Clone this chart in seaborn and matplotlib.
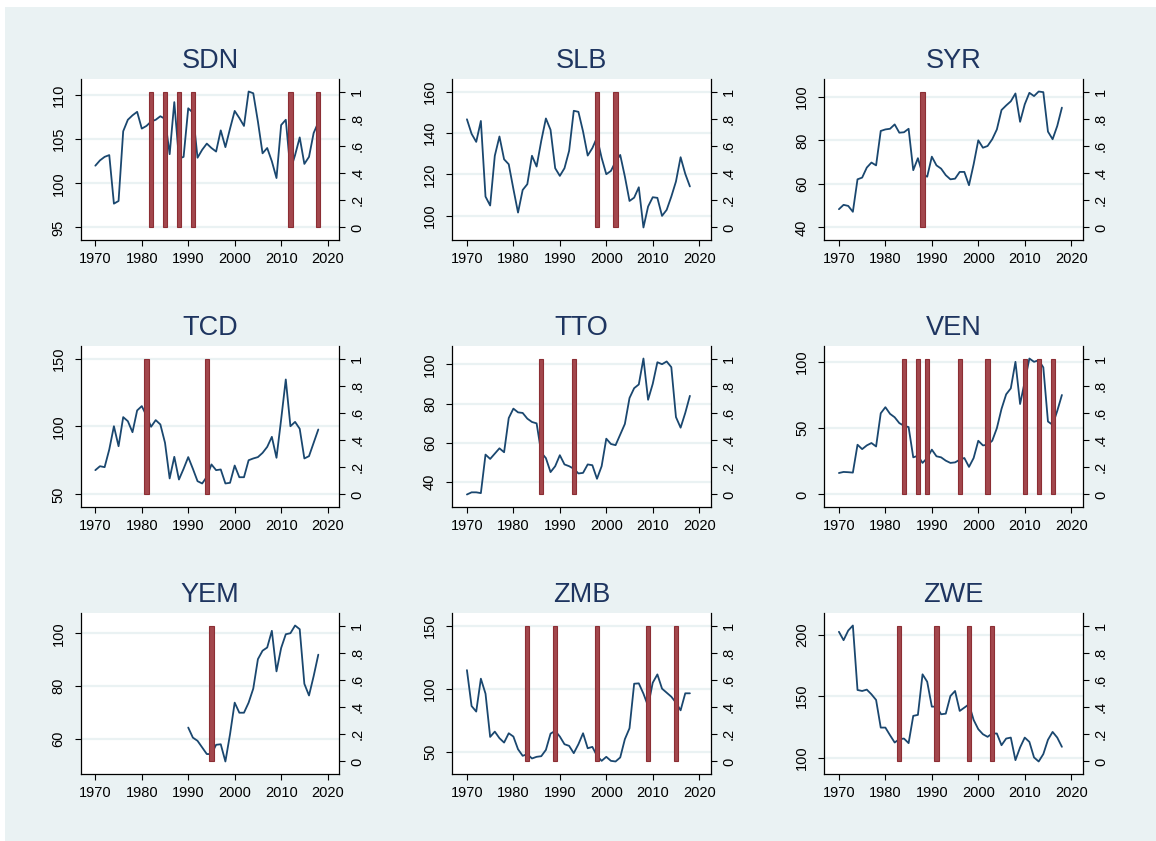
import matplotlib
matplotlib.use("Agg")
import matplotlib.pyplot as plt
import numpy as np
import pandas as pd
import seaborn as sns
from matplotlib.patches import Rectangle

sns.set_theme(style="ticks")
plt.rcParams["font.family"] = ["Liberation Sans", "DejaVu Sans"]

# ---- data -------------------------------------------------------------
years = list(range(1970, 2019))
yem_years = list(range(1990, 2019))

sdn = [102.0, 102.6, 103.0, 103.2, 97.7, 98.0, 105.9, 107.2, 107.7, 108.1,
       106.2, 106.5, 107.0, 107.2, 107.6, 107.3, 103.3, 109.2, 102.8, 103.0,
       108.5, 108.0, 102.9, 103.8, 104.5, 104.0, 103.6, 106.0, 104.1, 106.2,
       108.2, 107.4, 106.5, 110.4, 110.2, 107.0, 103.4, 104.0, 102.5, 100.6,
       106.6, 107.2, 101.5, 103.2, 105.2, 102.2, 103.0, 105.7, 106.9]
slb = [146.6, 139.6, 135.7, 145.8, 109.3, 105.0, 129.0, 138.3, 127.3, 124.9,
       113.0, 101.6, 112.5, 115.3, 129.0, 123.8, 136.2, 147.0, 141.5, 123.0,
       119.3, 123.0, 131.4, 150.7, 150.2, 140.7, 129.1, 132.7, 137.8, 128.0,
       120.1, 121.7, 126.2, 129.4, 119.0, 107.2, 108.8, 113.8, 94.4, 104.5,
       109.0, 108.7, 100.0, 102.9, 109.3, 116.6, 128.3, 120.3, 114.2]
syr = [48.4, 50.4, 49.9, 47.2, 62.1, 62.9, 67.5, 69.8, 68.5, 84.3,
       85.0, 85.3, 87.3, 83.5, 83.7, 85.3, 66.3, 71.8, 64.5, 63.3,
       72.5, 68.5, 67.0, 64.0, 62.1, 62.4, 65.5, 65.5, 59.4, 69.0,
       80.0, 76.6, 77.4, 80.5, 85.0, 93.9, 96.0, 97.9, 101.5, 88.5,
       96.5, 101.8, 100.3, 102.4, 102.1, 84.0, 80.5, 86.6, 95.0]
tcd = [67.9, 70.8, 70.1, 83.1, 100.2, 85.5, 106.9, 103.9, 95.8, 111.8,
       115.0, 108.0, 99.8, 104.7, 101.5, 88.0, 61.8, 77.7, 61.0, 68.9,
       77.5, 68.9, 59.8, 58.1, 63.0, 72.1, 67.9, 68.4, 58.1, 58.6,
       71.3, 62.7, 62.7, 75.2, 76.5, 77.5, 80.6, 85.0, 92.4, 77.0,
       105.1, 134.6, 100.2, 103.4, 98.3, 76.5, 78.2, 88.0, 97.8]
tto = [33.7, 34.8, 34.8, 34.4, 54.0, 51.8, 54.5, 57.2, 55.2, 72.6,
       77.4, 75.5, 75.2, 72.3, 70.6, 69.9, 55.0, 52.2, 45.1, 48.1,
       53.7, 49.0, 48.1, 46.8, 44.4, 44.7, 49.0, 48.6, 41.7, 48.1,
       62.1, 59.4, 58.8, 64.2, 69.6, 82.8, 87.8, 89.7, 102.9, 81.9,
       90.0, 101.0, 100.0, 101.4, 98.5, 73.1, 67.7, 75.2, 83.9]
ven = [16.2, 17.0, 16.8, 16.5, 37.5, 34.2, 37.0, 38.8, 36.2, 61.2,
       65.8, 60.8, 58.2, 53.8, 51.8, 50.8, 28.0, 29.2, 23.8, 27.5,
       33.8, 28.8, 28.0, 25.5, 23.8, 24.2, 26.2, 27.5, 20.8, 27.5,
       40.5, 37.0, 37.5, 40.5, 50.0, 64.5, 75.5, 80.0, 100.0, 68.2,
       85.0, 102.5, 100.0, 101.2, 95.8, 55.0, 52.5, 63.0, 75.0]
yem = [64.4, 60.6, 59.4, 56.9, 54.4, 54.4, 57.9, 58.1, 51.6, 61.9,
       73.8, 70.0, 70.0, 73.8, 79.1, 90.2, 93.4, 94.6, 100.9, 85.6,
       94.4, 99.6, 100.0, 102.9, 101.5, 80.9, 76.5, 83.8, 91.9]
zmb = [114.6, 86.1, 81.7, 107.8, 95.9, 61.6, 65.8, 60.6, 57.1, 64.5,
       61.9, 51.8, 46.6, 47.9, 44.5, 45.8, 46.3, 51.3, 64.2, 66.4,
       61.9, 55.8, 54.5, 48.7, 55.8, 64.5, 52.6, 53.7, 46.6, 42.6,
       45.8, 42.6, 42.1, 45.3, 59.8, 68.5, 103.8, 104.1, 95.9, 86.1,
       104.6, 111.2, 99.9, 96.7, 93.5, 88.8, 82.7, 96.2, 96.2]
zwe = [202.2, 195.4, 203.2, 207.3, 155.0, 154.2, 155.3, 151.5, 146.9, 124.5,
       124.5, 118.3, 112.4, 115.1, 115.6, 111.9, 134.0, 134.8, 167.7, 161.7,
       141.5, 141.5, 135.3, 135.8, 150.1, 154.2, 138.0, 140.7, 143.4, 130.7,
       123.2, 119.1, 117.0, 119.7, 119.7, 110.2, 115.6, 116.4, 98.1, 108.4,
       116.4, 112.9, 100.3, 97.0, 103.0, 114.6, 121.0, 116.4, 108.9]

# years flagged by the dummy (plotted as bars of height 1 on the right axis)
sdn_events = [1982, 1985, 1988, 1991, 2012, 2018]
slb_events = [1998, 2002]
syr_events = [1988]
tcd_events = [1981, 1994]
tto_events = [1986, 1993]
ven_events = [1984, 1987, 1989, 1996, 2002, 2010, 2013, 2016]
yem_events = [1995]
zmb_events = [1983, 1989, 1998, 2009, 2015]
zwe_events = [1983, 1991, 1998, 2003]

sdn_ticks = [95, 100, 105, 110]
slb_ticks = [100, 120, 140, 160]
syr_ticks = [40, 60, 80, 100]
tcd_ticks = [50, 100, 150]
tto_ticks = [40, 60, 80, 100]
ven_ticks = [0, 50, 100]
yem_ticks = [60, 80, 100]
zmb_ticks = [50, 100, 150]
zwe_ticks = [100, 150, 200]

x_ticks = [1970, 1980, 1990, 2000, 2010, 2020]
dummy_ticks = [0, 0.2, 0.4, 0.6, 0.8, 1.0]
dummy_labels = ["0", ".2", ".4", ".6", ".8", "1"]

panels = [
    ("SDN", years, sdn, sdn_events, sdn_ticks),
    ("SLB", years, slb, slb_events, slb_ticks),
    ("SYR", years, syr, syr_events, syr_ticks),
    ("TCD", years, tcd, tcd_events, tcd_ticks),
    ("TTO", years, tto, tto_events, tto_ticks),
    ("VEN", years, ven, ven_events, ven_ticks),
    ("YEM", yem_years, yem, yem_events, yem_ticks),
    ("ZMB", years, zmb, zmb_events, zmb_ticks),
    ("ZWE", years, zwe, zwe_events, zwe_ticks),
]

# ---- style ------------------------------------------------------------
NAVY = "#1a476f"
TITLE = "#1e3560"
BAR_FILL = "#a3474d"
BAR_EDGE = "#8c2e34"
REGION = "#eaf2f3"
GRID = "#eaf2f3"

W, H = 1156, 841
fig = plt.figure(figsize=(W / 100, H / 100), dpi=100)
fig.patch.set_facecolor("white")
fig.patches.append(Rectangle((5 / W, 0), 1 - 5 / W, 1 - 7 / H,
                             transform=fig.transFigure, facecolor=REGION,
                             edgecolor="none", zorder=-10))

col_left = [80.7, 452.3, 824.3]
row_top = [79, 346, 613]
ax_w, ax_h = 258.5, 161
pad = 0.092

for i, (name, yrs, vals, ev, ticks) in enumerate(panels):
    r, c = divmod(i, 3)
    ax = fig.add_axes([col_left[c] / W, 1 - (row_top[r] + ax_h) / H,
                       ax_w / W, ax_h / H])
    ax.set_facecolor("white")

    df = pd.DataFrame({"year": yrs, "value": vals})
    sns.lineplot(data=df, x="year", y="value", ax=ax, color=NAVY,
                 linewidth=1.3, zorder=3)

    lo = min(min(vals), ticks[0])
    hi = max(max(vals), ticks[-1])
    span = hi - lo
    ax.set_ylim(lo - pad * span, hi + pad * span)
    ax.set_yticks(ticks)
    ax.set_yticklabels([str(t) for t in ticks])
    ax.yaxis.grid(True, color=GRID, linewidth=1.6)
    ax.xaxis.grid(False)
    ax.set_axisbelow(True)
    ax.set_xticks(x_ticks)
    ax.set_xticklabels([str(t) for t in x_ticks])
    ax.set_xlim(1966.85, 2022.5)
    ax.set_xlabel("")
    ax.set_ylabel("")
    ax.tick_params(axis="y", labelrotation=90, length=4, width=0.8,
                   color="black", labelcolor="black", labelsize=10.5, pad=7)
    ax.tick_params(axis="x", length=4.5, width=0.8, color="black",
                   labelcolor="black", labelsize=10.5, pad=4)
    for lab in ax.get_yticklabels():
        lab.set_va("center")
    ax.spines["top"].set_visible(False)
    ax.spines["right"].set_visible(False)
    for s in ("left", "bottom"):
        ax.spines[s].set_color("black")
        ax.spines[s].set_linewidth(0.9)

    ax.set_title(name, fontsize=19.5, color=TITLE, pad=8)

    ax2 = ax.twinx()
    ax2.bar(ev, [1.0] * len(ev), width=0.9, color=BAR_FILL,
            edgecolor=BAR_EDGE, linewidth=0.8, zorder=4)
    ax2.set_ylim(-pad, 1 + pad)
    ax2.set_yticks(dummy_ticks)
    ax2.set_yticklabels(dummy_labels)
    ax2.tick_params(axis="y", labelrotation=90, length=4, width=0.8,
                    color="black", labelcolor="black", labelsize=10.5, pad=4)
    for lab in ax2.get_yticklabels():
        lab.set_va("center")
    ax2.set_xlim(1966.85, 2022.5)
    ax2.spines["top"].set_visible(False)
    ax2.spines["left"].set_visible(False)
    ax2.spines["bottom"].set_visible(False)
    ax2.spines["right"].set_color("black")
    ax2.spines["right"].set_linewidth(0.9)
    ax2.grid(False)

fig.savefig("out.png", dpi=100, facecolor=fig.get_facecolor())
